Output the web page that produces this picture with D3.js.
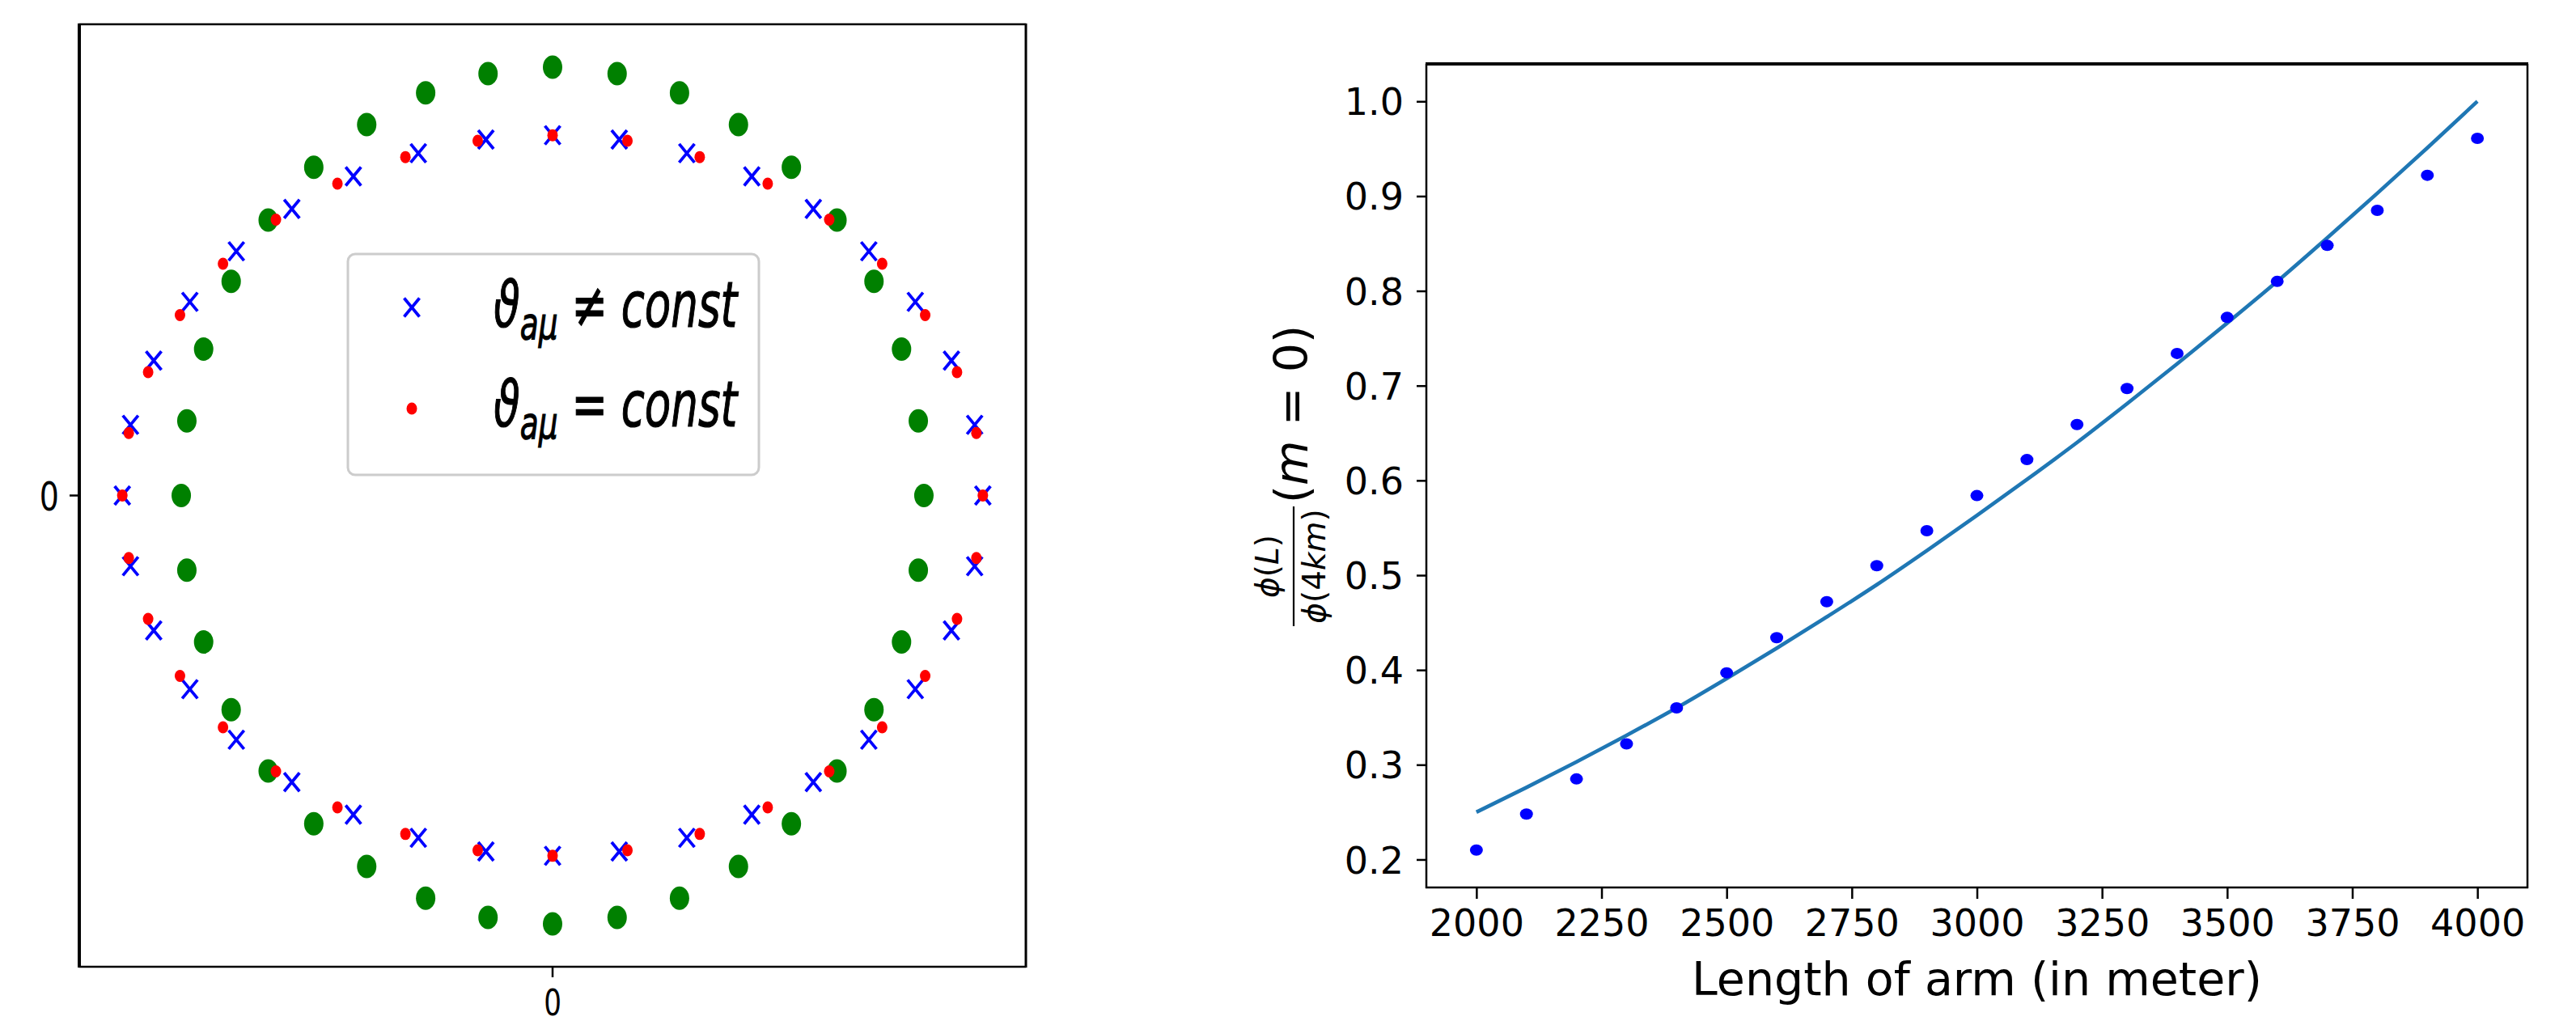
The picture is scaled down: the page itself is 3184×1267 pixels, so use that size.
<!DOCTYPE html>
<html>
<head>
<meta charset="utf-8">
<script src="https://cdn.jsdelivr.net/npm/d3@7"></script>
<style>
    body { margin: 0; background: #fff; }
    text { font-family: "DejaVu Sans", sans-serif; fill: #000; }
</style>
</head>
<body>
<svg id="chart" width="3184" height="1267"></svg>
<script>
'use strict';

// ---- left panel: marker positions in data units, every 10 degrees from the +x axis ----
const varyingX = [1.000, 0.981, 0.927, 0.843, 0.735, 0.606, 0.463, 0.312, 0.155, 0.000, -0.155, -0.312,
    -0.463, -0.606, -0.735, -0.843, -0.927, -0.981, -1.000, -0.981, -0.927, -0.843, -0.735, -0.606,
    -0.463, -0.312, -0.155, 0.000, 0.155, 0.312, 0.463, 0.606, 0.735, 0.843, 0.927, 0.981];
const varyingY = [0.000, 0.165, 0.315, 0.452, 0.570, 0.669, 0.745, 0.799, 0.831, 0.841, 0.831, 0.799,
    0.745, 0.669, 0.570, 0.452, 0.315, 0.165, 0.000, -0.165, -0.315, -0.452, -0.570, -0.669,
    -0.745, -0.799, -0.831, -0.841, -0.831, -0.799, -0.745, -0.669, -0.570, -0.452, -0.315, -0.165];

const constX = [1.000, 0.985, 0.940, 0.866, 0.766, 0.643, 0.500, 0.342, 0.174, 0.000, -0.174, -0.342,
    -0.500, -0.643, -0.766, -0.866, -0.940, -0.985, -1.000, -0.985, -0.940, -0.866, -0.766, -0.643,
    -0.500, -0.342, -0.174, 0.000, 0.174, 0.342, 0.500, 0.643, 0.766, 0.866, 0.940, 0.985];
const constY = [0.000, 0.146, 0.288, 0.421, 0.541, 0.644, 0.728, 0.790, 0.828, 0.841, 0.828, 0.790,
    0.728, 0.644, 0.541, 0.421, 0.288, 0.146, 0.000, -0.146, -0.288, -0.421, -0.541, -0.644,
    -0.728, -0.790, -0.828, -0.841, -0.828, -0.790, -0.728, -0.644, -0.541, -0.421, -0.288, -0.146];

const outerX = [0.863, 0.850, 0.811, 0.747, 0.661, 0.555, 0.432, 0.295, 0.150, 0.000, -0.150, -0.295,
    -0.432, -0.555, -0.661, -0.747, -0.811, -0.850, -0.863, -0.850, -0.811, -0.747, -0.661, -0.555,
    -0.432, -0.295, -0.150, 0.000, 0.150, 0.295, 0.432, 0.555, 0.661, 0.747, 0.811, 0.850];
const outerY = [0.000, 0.174, 0.342, 0.500, 0.643, 0.766, 0.866, 0.940, 0.985, 1.000, 0.985, 0.940,
    0.866, 0.766, 0.643, 0.500, 0.342, 0.174, 0.000, -0.174, -0.342, -0.500, -0.643, -0.766,
    -0.866, -0.940, -0.985, -1.000, -0.985, -0.940, -0.866, -0.766, -0.643, -0.500, -0.342, -0.174];

const legendRelations = ['\u2260', '='];

// ---- right panel ----
const armLength = [2000, 2100, 2200, 2300, 2400, 2500, 2600, 2700, 2800, 2900, 3000,
    3100, 3200, 3300, 3400, 3500, 3600, 3700, 3800, 3900, 4000];
const fluxPoints = [0.210, 0.248, 0.285, 0.322, 0.360, 0.397, 0.434, 0.472, 0.510, 0.547, 0.584,
    0.622, 0.659, 0.697, 0.734, 0.772, 0.810, 0.848, 0.885, 0.922, 0.961];
const fluxCurve = [0.250, 0.276, 0.303, 0.331, 0.360, 0.391, 0.423, 0.456, 0.490, 0.526, 0.563,
    0.601, 0.640, 0.681, 0.723, 0.766, 0.810, 0.856, 0.903, 0.951, 1.000];
const xTicks = [2000, 2250, 2500, 2750, 3000, 3250, 3500, 3750, 4000];
const yTicks = [0.2, 0.3, 0.4, 0.5, 0.6, 0.7, 0.8, 0.9, 1.0];

const svg = d3.select('#chart');

function zip(xs, ys) {
    return xs.map((x, i) => ({x: x, y: ys[i]}));
}

// squeeze a text group horizontally around x0 so it spans `width` pixels
function fitWidth(g, x0, width) {
    const w = g.node().getBBox().width;
    const s = width / w;
    g.attr('transform', `translate(${x0},0) scale(${s},1) translate(${-x0},0)`);
}

/* ================= left panel ================= */
const L = {left: 98, right: 1268, top: 30, bottom: 1195};
const squeeze = 0.76;

const xL = d3.scaleLinear().domain([-1.1, 1.1]).range([L.left, L.right]);
const yL = d3.scaleLinear().domain([-1.1, 1.1]).range([L.bottom, L.top]);

const left = svg.append('g');

left.append('g')
    .selectAll('ellipse')
    .data(zip(outerX, outerY))
    .enter()
    .append('ellipse')
    .attr('cx', (d) => xL(d.x))
    .attr('cy', (d) => yL(d.y))
    .attr('rx', 12)
    .attr('ry', 14.5)
    .style('fill', '#008000');

const crossPath = 'M-9.5,-11.5L9.5,11.5M-9.5,11.5L9.5,-11.5';

left.append('g')
    .selectAll('path')
    .data(zip(varyingX, varyingY))
    .enter()
    .append('path')
    .attr('d', crossPath)
    .attr('transform', (d) => `translate(${xL(d.x)},${yL(d.y)})`)
    .style('fill', 'none')
    .style('stroke', '#0000ff')
    .style('stroke-width', 3.8);

left.append('g')
    .selectAll('ellipse')
    .data(zip(constX, constY))
    .enter()
    .append('ellipse')
    .attr('cx', (d) => xL(d.x))
    .attr('cy', (d) => yL(d.y))
    .attr('rx', 6.5)
    .attr('ry', 7.5)
    .style('fill', '#ff0000');

// frame
const frameL = left.append('g').style('stroke', '#000');
frameL.append('line').attr('x1', L.left).attr('x2', L.left).attr('y1', L.top - 1).attr('y2', L.bottom + 1).style('stroke-width', 4);
frameL.append('line').attr('x1', L.right).attr('x2', L.right).attr('y1', L.top - 1).attr('y2', L.bottom + 1).style('stroke-width', 3);
frameL.append('line').attr('x1', L.left).attr('x2', L.right).attr('y1', L.top).attr('y2', L.top).style('stroke-width', 2.5);
frameL.append('line').attr('x1', L.left).attr('x2', L.right).attr('y1', L.bottom).attr('y2', L.bottom).style('stroke-width', 2.5);

// the single "0" ticks
frameL.append('line').attr('x1', xL(0)).attr('x2', xL(0)).attr('y1', L.bottom).attr('y2', L.bottom + 13).style('stroke-width', 2.5);
frameL.append('line').attr('x1', L.left - 12).attr('x2', L.left).attr('y1', yL(0)).attr('y2', yL(0)).style('stroke-width', 2.5);

left.append('text')
    .attr('transform', `translate(${xL(0)},1255) scale(${squeeze},1)`)
    .attr('text-anchor', 'middle')
    .style('font-size', '45px')
    .text('0');

left.append('text')
    .attr('transform', `translate(${L.left - 25},${yL(0)}) scale(${squeeze},1)`)
    .attr('dy', '0.36em')
    .attr('text-anchor', 'end')
    .style('font-size', '50px')
    .text('0');

// legend
const legend = left.append('g');
legend.append('rect')
    .attr('x', 430).attr('y', 314)
    .attr('width', 508).attr('height', 273)
    .attr('rx', 9)
    .style('fill', '#fff')
    .style('stroke', '#cccccc')
    .style('stroke-width', 3);

legend.append('path')
    .attr('d', crossPath)
    .attr('transform', 'translate(509,380)')
    .style('fill', 'none')
    .style('stroke', '#0000ff')
    .style('stroke-width', 3.8);

legend.append('ellipse')
    .attr('cx', 509).attr('cy', 505)
    .attr('rx', 6.5).attr('ry', 7.5)
    .style('fill', '#ff0000');

legendRelations.forEach((rel, i) => {
    const g = legend.append('g');
    const t = g.append('text')
        .attr('x', 610)
        .attr('y', 404 + i * 123)
        .style('font-size', '78px')
        .style('stroke', '#000')
        .style('stroke-width', 1.2);
    t.append('tspan').style('font-style', 'italic').text('\u03d1');
    t.append('tspan')
        .style('font-style', 'italic')
        .style('font-size', '55px')
        .attr('dy', 15)
        .text('a\u03bc');
    t.append('tspan').attr('dy', -15).text(' ' + rel + ' ');
    t.append('tspan').style('font-style', 'italic').text('const');
    fitWidth(g, 610, 303);
});

/* ================= right panel ================= */
const R = {left: 1763, right: 3124, top: 79, bottom: 1097};

const xR = d3.scaleLinear().domain([1900, 4100]).range([R.left, R.right]);
const yR = d3.scaleLinear().domain([0.1705, 1.0395]).range([R.bottom, R.top]);

const right = svg.append('g');

const line = d3.line()
    .x((d) => xR(d.x))
    .y((d) => yR(d.y))
    .curve(d3.curveMonotoneX);

right.append('path')
    .datum(zip(armLength, fluxCurve))
    .attr('d', line)
    .style('fill', 'none')
    .style('stroke', '#1f77b4')
    .style('stroke-width', 4.6);

right.append('g')
    .selectAll('ellipse')
    .data(zip(armLength, fluxPoints))
    .enter()
    .append('ellipse')
    .attr('cx', (d) => xR(d.x))
    .attr('cy', (d) => yR(d.y))
    .attr('rx', 8)
    .attr('ry', 7)
    .style('fill', '#0000ff');

const xAxis = right.append('g')
    .attr('transform', `translate(0,${R.bottom})`)
    .call(d3.axisBottom(xR).tickValues(xTicks).tickSize(14).tickPadding(13).tickFormat(d3.format('d')));

const yAxis = right.append('g')
    .attr('transform', `translate(${R.left},0)`)
    .call(d3.axisLeft(yR).tickValues(yTicks).tickSize(12).tickPadding(16).tickFormat(d3.format('.1f')));

[xAxis, yAxis].forEach((ax) => {
    ax.select('.domain').remove();
    ax.selectAll('line').style('stroke', '#000').style('stroke-width', 2.5);
    ax.selectAll('text')
        .style('font-size', '46px')
        .style('font-family', '"DejaVu Sans", sans-serif')
        .style('fill', '#000');
});
yAxis.selectAll('text').attr('dy', '0.36em');

const frameR = right.append('g').style('stroke', '#000');
frameR.append('line').attr('x1', R.left).attr('x2', R.left).attr('y1', R.top).attr('y2', R.bottom + 1).style('stroke-width', 2.5);
frameR.append('line').attr('x1', R.right).attr('x2', R.right).attr('y1', R.top).attr('y2', R.bottom + 1).style('stroke-width', 2.5);
frameR.append('line').attr('x1', R.left - 1).attr('x2', R.right + 1).attr('y1', R.top).attr('y2', R.top).style('stroke-width', 4);
frameR.append('line').attr('x1', R.left - 1).attr('x2', R.right + 1).attr('y1', R.bottom).attr('y2', R.bottom).style('stroke-width', 2.5);

// x label
right.append('text')
    .attr('x', (R.left + R.right) / 2)
    .attr('y', 1230)
    .attr('text-anchor', 'middle')
    .style('font-size', '57px')
    .text('Length of arm (in meter)');

// y label: phi(L)/phi(4km) (m = 0), rotated
const ylab = right.append('g').attr('transform', 'rotate(-90)');

const frac = {centre: 700, half: 74};

const num = ylab.append('text')
    .attr('x', -frac.centre)
    .attr('y', 1580)
    .attr('text-anchor', 'middle')
    .style('font-size', '39px');
num.append('tspan').style('font-style', 'italic').text('\u03d5');
num.append('tspan').text('(');
num.append('tspan').style('font-style', 'italic').text('L');
num.append('tspan').text(')');

ylab.append('line')
    .attr('x1', -frac.centre - frac.half)
    .attr('x2', -frac.centre + frac.half)
    .attr('y1', 1599)
    .attr('y2', 1599)
    .style('stroke', '#000')
    .style('stroke-width', 2.2);

const den = ylab.append('text')
    .attr('x', -frac.centre)
    .attr('y', 1638)
    .attr('text-anchor', 'middle')
    .style('font-size', '39px');
den.append('tspan').style('font-style', 'italic').text('\u03d5');
den.append('tspan').text('(4');
den.append('tspan').style('font-style', 'italic').text('km');
den.append('tspan').text(')');

const mlab = ylab.append('text')
    .attr('x', -512)
    .attr('y', 1616)
    .attr('text-anchor', 'middle')
    .style('font-size', '57px');
mlab.append('tspan').text('(');
mlab.append('tspan').style('font-style', 'italic').text('m');
mlab.append('tspan').text(' = 0)');
</script>
</body>
</html>
